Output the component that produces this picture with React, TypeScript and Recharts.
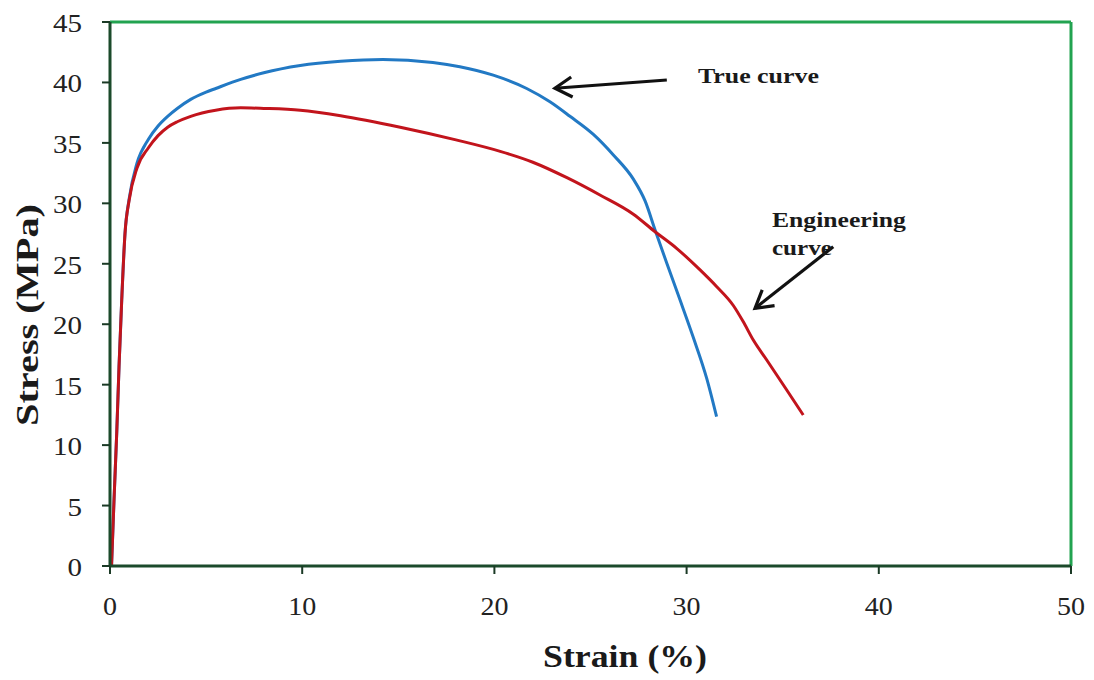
import React from 'react';
import { LineChart, Line, XAxis, YAxis, ReferenceLine, ReferenceDot } from 'recharts';

// True stress-strain curve
const trueStrain = [0.08, 0.21, 0.35, 0.47, 0.61, 0.78, 1.0, 1.4, 2.0, 2.5, 3.0, 3.5, 4.2, 5.0, 5.5, 6.8, 8.0, 9.9, 12.0, 14.2, 16.8, 18.2, 19.94, 21.68, 22.89, 23.93, 25.15, 26.19, 27.23, 27.84, 28.36, 28.97, 29.66, 30.35, 31.05, 31.56];
const trueStress = [0, 5.5, 11, 16.5, 22, 27.5, 30.4, 33.3, 35.3, 36.4, 37.2, 37.85, 38.6, 39.2, 39.5, 40.25, 40.8, 41.4, 41.75, 41.9, 41.65, 41.3, 40.6, 39.5, 38.4, 37.2, 35.7, 34.0, 32.0, 30.2, 27.8, 25.04, 22.0, 18.9, 15.5, 12.35];

// Engineering stress-strain curve
const engStrain = [0.08, 0.21, 0.35, 0.47, 0.61, 0.78, 1.0, 1.4, 2.0, 2.5, 3.0, 3.5, 4.2, 5.5, 6.8, 8.0, 9.9, 12.0, 15.1, 18.0, 20.3, 22.0, 23.8, 25.49, 27.23, 28.36, 29.48, 30.7, 31.57, 32.43, 32.95, 33.47, 34.17, 35.21, 36.07];
const engStress = [0, 5.5, 11, 16.5, 22, 27.5, 30.3, 32.9, 34.6, 35.6, 36.3, 36.75, 37.2, 37.7, 37.9, 37.85, 37.7, 37.25, 36.3, 35.25, 34.3, 33.4, 32.1, 30.69, 29.1, 27.65, 26.28, 24.49, 23.1, 21.55, 20.2, 18.69, 17.04, 14.56, 12.49];

const xTicks = [0, 10, 20, 30, 40, 50];
const yTicks = [0, 5, 10, 15, 20, 25, 30, 35, 40, 45];

// Annotation texts (anchor in data units: strain, stress)
const noteTexts = ['True curve', 'Engineering', 'curve'];
const noteStrain = [30.59, 34.44, 34.44];
const noteStress = [39.95, 28.04, 25.73];
const noteWidths = [121, 134, 60];

// Arrows (tail -> tip, data units)
const arrowTail = [{ x: 28.97, y: 40.2 }, { x: 37.63, y: 26.41 }];
const arrowTip = [{ x: 23.15, y: 39.52 }, { x: 33.56, y: 21.32 }];

const trueData = trueStrain.map((x, i) => ({ x, y: trueStress[i] }));
const engData = engStrain.map((x, i) => ({ x, y: engStress[i] }));

const SERIF = 'Liberation Serif, Tinos, Times New Roman, serif';

const XTick = (props: any) => {
  const { x, y, payload } = props;
  const s = String(payload.value);
  return (
    <text x={x} y={y + 37} textAnchor="middle" style={{ fontFamily: SERIF }} fontSize={25} fill="#222"
      textLength={14 * s.length} lengthAdjust="spacingAndGlyphs">{s}</text>
  );
};

const YTick = (props: any) => {
  const { x, y, payload } = props;
  const s = String(payload.value);
  return (
    <text x={x} y={y + 10} textAnchor="end" style={{ fontFamily: SERIF }} fontSize={25} fill="#222"
      textLength={14.5 * s.length} lengthAdjust="spacingAndGlyphs">{s}</text>
  );
};

export default function App() {
  return (
    <div style={{ position: 'absolute', left: 0, top: 0, width: 1094, height: 680, background: '#fff' }}>
      <LineChart width={1094} height={680} margin={{ top: 22, right: 23, left: 10, bottom: 14 }}>
        <defs>
          <marker id="arrowHead" markerUnits="userSpaceOnUse" markerWidth="30" markerHeight="30"
            refX="19" refY="12" orient="auto">
            <path d="M 2 2 L 19 12 L 2 22" fill="none" stroke="#111" strokeWidth="3.2" strokeLinejoin="miter" />
          </marker>
        </defs>
        <XAxis dataKey="x" type="number" domain={[0, 50]} ticks={xTicks} interval={0}
          height={100} tickSize={8} tickMargin={4}
          axisLine={{ stroke: '#1b4a2b', strokeWidth: 3 }} tickLine={{ stroke: '#1b3a26', strokeWidth: 2 }}
          tick={<XTick />} allowDecimals={false} />
        <YAxis type="number" domain={[0, 45]} ticks={yTicks} interval={0}
          width={100} tickSize={8} tickMargin={20}
          axisLine={{ stroke: '#1b4a2b', strokeWidth: 3 }} tickLine={{ stroke: '#1b3a26', strokeWidth: 2 }}
          tick={<YTick />} />
        <ReferenceLine y={45} stroke="#22a350" strokeWidth={3} ifOverflow="extendDomain" />
        <ReferenceLine x={50} stroke="#22a350" strokeWidth={3} ifOverflow="extendDomain" />
        <Line data={trueData} dataKey="y" type="monotone" stroke="#2279c4" strokeWidth={3}
          dot={false} isAnimationActive={false} />
        <Line data={engData} dataKey="y" type="monotone" stroke="#c2141c" strokeWidth={3}
          dot={false} isAnimationActive={false} />
        {arrowTail.map((t, i) => (
          <ReferenceLine key={'a' + i} segment={[t, arrowTip[i]]} ifOverflow="visible"
            shape={(p: any) => (
              <line x1={p.x1} y1={p.y1} x2={p.x2} y2={p.y2} stroke="#111" strokeWidth={3.2}
                markerEnd="url(#arrowHead)" />
            )} />
        ))}
        {noteTexts.map((t, i) => (
          <ReferenceDot key={'n' + i} x={noteStrain[i]} y={noteStress[i]} r={0} ifOverflow="visible"
            shape={(p: any) => (
              <text x={p.cx} y={p.cy} textAnchor="start" style={{ fontFamily: SERIF }} fontWeight="bold"
                fontSize={21} fill="#1a1a1a" textLength={noteWidths[i]} lengthAdjust="spacingAndGlyphs">{t}</text>
            )} />
        ))}
      </LineChart>
      <svg width={1094} height={680} style={{ position: 'absolute', left: 0, top: 0, pointerEvents: 'none' }}>
        <text x={625} y={667} textAnchor="middle" style={{ fontFamily: SERIF }} fontWeight="bold" fontSize={31}
          fill="#1a1a1a" textLength={164} lengthAdjust="spacingAndGlyphs">Strain (%)</text>
        <text x={38} y={315} transform="rotate(-90 38 315)" textAnchor="middle" style={{ fontFamily: SERIF }}
          fontWeight="bold" fontSize={31} fill="#1a1a1a" textLength={222} lengthAdjust="spacingAndGlyphs">Stress (MPa)</text>
      </svg>
    </div>
  );
}
